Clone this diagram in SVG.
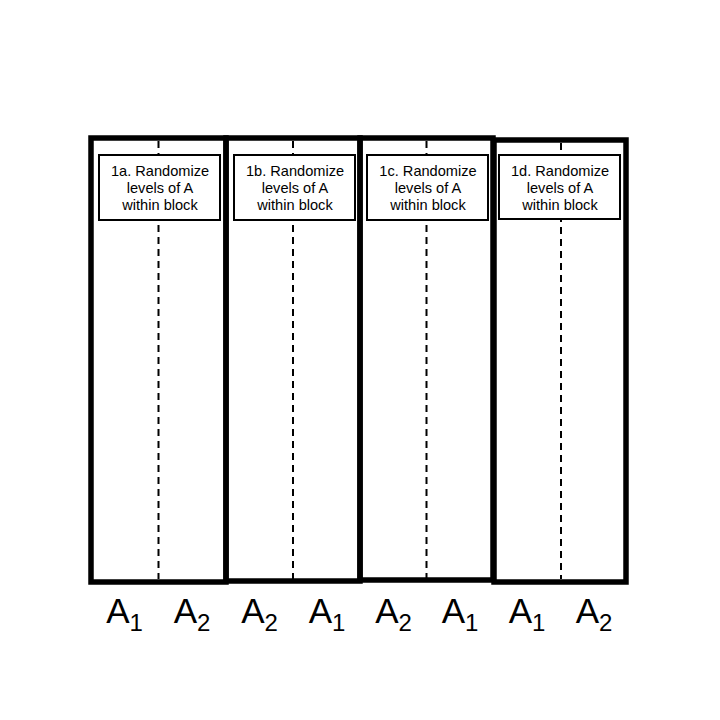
<svg xmlns="http://www.w3.org/2000/svg" width="720" height="720" viewBox="0 0 720 720">
<style>
.block{fill:none;stroke:#000;stroke-width:5.5}
.div{stroke:#000;stroke-width:2;stroke-dasharray:7 5}
.box{fill:#fff;stroke:#000;stroke-width:2}
.t{font-family:"Liberation Sans",Arial,sans-serif;font-size:14.6px;text-anchor:middle;fill:#000}
.lab{font-family:"Liberation Sans",Arial,sans-serif;font-size:35px;text-anchor:middle;fill:#000}
.sub{font-size:24px}
</style>
<rect width="720" height="720" fill="#fff"/>
<g id="connectors">
<line class="div" x1="158.5" y1="141" x2="158.5" y2="579"/>
<line class="div" x1="293" y1="141" x2="293" y2="579"/>
<line class="div" x1="426.5" y1="141" x2="426.5" y2="578"/>
<line class="div" x1="561" y1="143" x2="561" y2="579"/>
</g>
<g id="block1">
<rect class="block" x="91" y="138" width="135" height="444"/>
<rect class="box" x="99" y="155" width="121" height="65"/>
<text class="t" x="160" y="175.5">1a. Randomize</text>
<text class="t" x="160" y="192.5">levels of A</text>
<text class="t" x="160" y="209.5">within block</text>
</g>
<g id="block2">
<rect class="block" x="226" y="138" width="134" height="443"/>
<rect class="box" x="234" y="155" width="121" height="65"/>
<text class="t" x="295" y="175.5">1b. Randomize</text>
<text class="t" x="295" y="192.5">levels of A</text>
<text class="t" x="295" y="209.5">within block</text>
</g>
<g id="block3">
<rect class="block" x="360" y="138" width="133" height="442"/>
<rect class="box" x="367" y="155" width="121" height="65"/>
<text class="t" x="428" y="175.5">1c. Randomize</text>
<text class="t" x="428" y="192.5">levels of A</text>
<text class="t" x="428" y="209.5">within block</text>
</g>
<g id="block4">
<rect class="block" x="494" y="140" width="132" height="442"/>
<rect class="box" x="499" y="155" width="121" height="64"/>
<text class="t" x="560" y="175.5">1d. Randomize</text>
<text class="t" x="560" y="192.5">levels of A</text>
<text class="t" x="560" y="209.5">within block</text>
</g>
<g id="labels">
<text class="lab" x="124.5" y="623">A<tspan class="sub" dy="8">1</tspan></text>
<text class="lab" x="192" y="623">A<tspan class="sub" dy="8">2</tspan></text>
<text class="lab" x="259.5" y="623">A<tspan class="sub" dy="8">2</tspan></text>
<text class="lab" x="327" y="623">A<tspan class="sub" dy="8">1</tspan></text>
<text class="lab" x="393.5" y="623">A<tspan class="sub" dy="8">2</tspan></text>
<text class="lab" x="460" y="623">A<tspan class="sub" dy="8">1</tspan></text>
<text class="lab" x="527" y="623">A<tspan class="sub" dy="8">1</tspan></text>
<text class="lab" x="594" y="623">A<tspan class="sub" dy="8">2</tspan></text>
</g>
</svg>
